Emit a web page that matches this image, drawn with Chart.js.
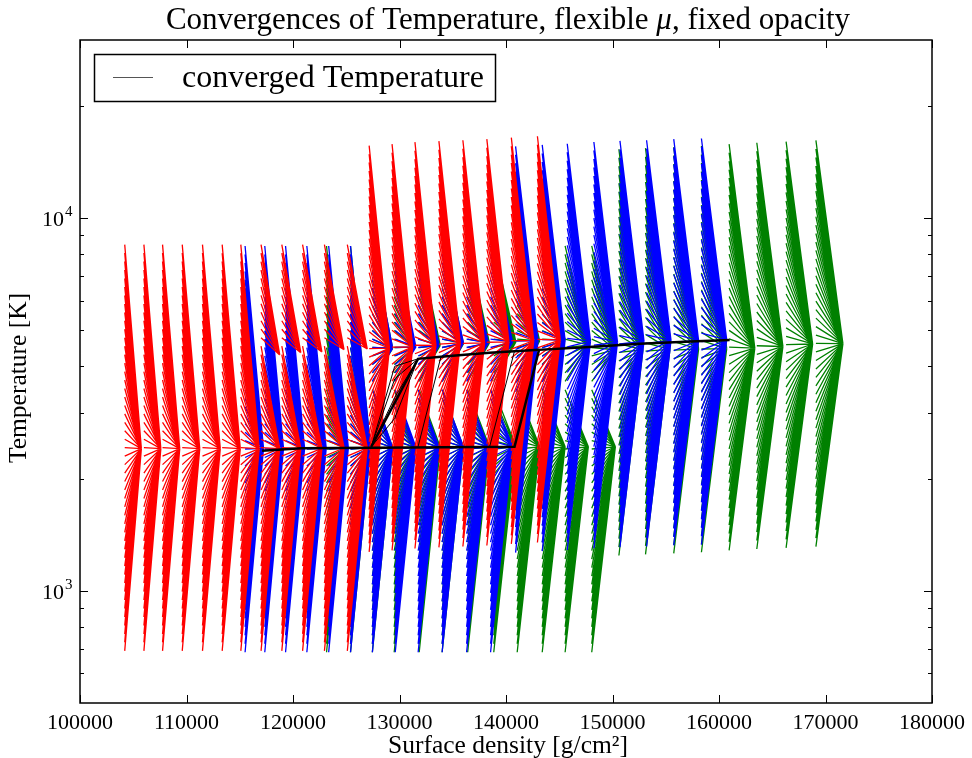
<!DOCTYPE html>
<html lang="en">
<head>
<meta charset="UTF-8">
<title>Convergences of Temperature</title>
<script src="https://cdn.jsdelivr.net/npm/chart.js"></script>
<style>
  body { margin: 0; background: #fff; }
</style>
</head>
<body>
<canvas id="chart" width="972" height="758"></canvas>
<script>
// starting guesses of every fan, as a factor of the fan's reference temperature
var startFactors = [0.2851, 0.3004, 0.3165, 0.3335, 0.3514, 0.3703, 0.3902, 0.4111, 0.4332, 0.4564,
                    0.4809, 0.5067, 0.5339, 0.5626, 0.5928, 0.6246, 0.6581, 0.6934, 0.7306, 0.7698,
                    0.8110, 0.8546, 0.9004, 0.9487, 1.0000, 1.0532, 1.1097, 1.1693, 1.2320, 1.2981,
                    1.3677, 1.4411, 1.5184, 1.5999, 1.6857, 1.7762, 1.8715, 1.9719, 2.0777, 2.1891,
                    2.3067, 2.4304, 2.5608, 2.6982, 2.8430, 2.9955, 3.1563, 3.3256, 3.5040];

// red runs
var redSigma    = [104200, 106000, 107750, 109600, 111500, 113350, 115100, 117000, 118950, 120900,
                   122950, 125100, 127150, 129300, 131450, 133700, 135950, 138200, 140500, 142950];
var redStartT   = [2420, 2420, 2420, 2420, 2420, 2420, 2420, 2420, 2420, 2420,
                   2420, 2420, 4460, 4500, 4555, 4585, 4610, 4640, 4685, 4725];
var redConvLow  = [2405, 2405, 2405, 2405, 2405, 2405, 2405, 2405, 2410, 2410,
                   2415, 2420, 4475, 4510, 4550, 4620, 4620, 4650, 4690, 4710];
var redConvHigh = [2405, 2405, 2405, 2405, 2405, 2405, 2405, 4290, 4350, 4370,
                   4430, 4450, 4475, 4510, 4550, 4620, 4620, 4650, 4690, 4710];
var redSplit    = [Infinity, Infinity, Infinity, Infinity, Infinity, Infinity, Infinity, 4600, 4600, 4600,
                   4600, 4600, 0, 0, 0, 0, 0, 0, 0, 0];

// blue runs
var blueSigma    = [115500, 117350, 119300, 121300, 123350, 125400, 127450, 129600, 131750, 134000,
                    136300, 138550, 140900, 143400, 145750, 148250, 150700, 153200, 155750, 158350];
var blueStartT   = [2400, 2400, 2400, 2400, 2400, 2400, 2400, 2400, 2400, 2400,
                    2400, 2400, 4440, 4480, 4510, 4560, 4590, 4610, 4640, 4660];
var blueConvLow  = [2410, 2410, 2410, 2410, 2415, 2420, 2420, 2425, 2425, 2430,
                    2430, 2433, 4690, 4700, 4670, 4640, 4670, 4690, 4690, 4710];
var blueConvHigh = [2410, 2410, 2410, 2410, 2415, 2420, 4475, 4510, 4550, 4620,
                    4620, 4650, 4690, 4700, 4670, 4640, 4670, 4690, 4690, 4710];
var blueSplit    = [Infinity, Infinity, Infinity, Infinity, Infinity, Infinity, 3600, 3600, 3600, 3600,
                    3600, 3600, 0, 0, 0, 0, 0, 0, 0, 0];

// green runs
var greenSigma    = [123150, 125400, 127450, 129500, 131850, 134000, 136400, 138850, 141050, 143400,
                     145550, 148050, 150600, 153100, 155750, 158350, 160950, 163550, 166300, 169100];
var greenStartT   = [2400, 2400, 2400, 2400, 2400, 2400, 2400, 2400, 2400, 2400,
                     2400, 2400, 4360, 4390, 4420, 4450, 4500, 4540, 4570, 4605];
var greenConvLow  = [2415, 2420, 2420, 2425, 2425, 2430, 2430, 2433, 2433, 2433,
                     2433, 2433, 4430, 4440, 4450, 4460, 4475, 4520, 4590, 4600];
var greenConvHigh = [2415, 2420, 4470, 4500, 4550, 4600, 4620, 4650, 4680, 4700,
                     4560, 4430, 4430, 4440, 4450, 4460, 4475, 4520, 4590, 4600];
var greenSplit    = [Infinity, Infinity, 3600, 3600, 3600, 3600, 3600, 3600, 3600, 3600,
                     3600, 3600, 0, 0, 0, 0, 0, 0, 0, 0];

// converged temperature tracks
var convMainSigma  = [117100, 120800, 140800, 143100, 147800, 152600, 157900, 161000];
var convMainT      = [2375, 2410, 2433, 4427, 4509, 4594, 4665, 4708];
var convUpperSigma = [127350, 131740, 133890, 136130, 138460, 140790, 143130];
var convUpperT     = [2433, 4188, 4240, 4292, 4346, 4386, 4427];
var convWedgeMidSigma = 129550;
var convWedgeMidT  = [2900, 3300, 3700, 4000];
var convJumpSigma  = [[131740, 133890], [138460, 140790]];
var convJumpT      = [[2433, 4240], [2433, 4386]];

var xTicks = [100000, 110000, 120000, 130000, 140000, 150000, 160000, 170000, 180000];
var yMajorTicks = [1000, 10000];
var yMajorExp = ['3', '4'];
var yMinorTicks = [600, 700, 800, 900, 2000, 3000, 4000, 5000, 6000, 7000, 8000, 9000, 20000];

var ARROW_STEP = 1.015;   // arrow heads sit 1.5 % further along in surface density
var SERIF = '"Liberation Serif", "DejaVu Serif", serif';

function fanDatasets(sigma, startT, convLow, convHigh, split, color, order) {
    var sets = [];
    for (var k = 0; k < sigma.length; k++) {
        var pts = [];
        var xEnd = sigma[k] * ARROW_STEP;
        for (var i = 0; i < startFactors.length; i++) {
            var t0 = startT[k] * startFactors[i];
            var t1 = t0 > split[k] ? convHigh[k] : convLow[k];
            pts.push({ x: sigma[k], y: t0 }, { x: xEnd, y: t1 }, { x: xEnd, y: null });
        }
        sets.push({
            data: pts, borderColor: color, borderWidth: 1.3, pointRadius: 0,
            fill: false, tension: 0, spanGaps: false, order: order
        });
    }
    return sets;
}

function track(sigma, temps) {
    return sigma.map(function (s, i) { return { x: s, y: temps[i] }; });
}

var wedgePts = [];
convWedgeMidT.forEach(function (t) {
    wedgePts.push({ x: convUpperSigma[0], y: convUpperT[0] }, { x: convWedgeMidSigma, y: t },
                  { x: convUpperSigma[1], y: convUpperT[1] }, { x: convUpperSigma[1], y: null });
});
var jumpPts = [];
convJumpSigma.forEach(function (s, i) {
    jumpPts.push({ x: s[0], y: convJumpT[i][0] }, { x: s[1], y: convJumpT[i][1] }, { x: s[1], y: null });
});

var blackStyle = { borderColor: '#000', pointRadius: 0, fill: false, tension: 0, order: 0 };
var datasets = [
    Object.assign({ label: 'converged Temperature', data: track(convMainSigma, convMainT), borderWidth: 2.5 }, blackStyle),
    Object.assign({ data: track(convUpperSigma, convUpperT), borderWidth: 2.5 }, blackStyle),
    Object.assign({ data: wedgePts, borderWidth: 1 }, blackStyle),
    Object.assign({ data: jumpPts, borderWidth: 1 }, blackStyle)
].concat(
    fanDatasets(redSigma, redStartT, redConvLow, redConvHigh, redSplit, '#ff0000', 1),
    fanDatasets(blueSigma, blueStartT, blueConvLow, blueConvHigh, blueSplit, '#0000ff', 2),
    fanDatasets(greenSigma, greenStartT, greenConvLow, greenConvHigh, greenSplit, '#008000', 3)
);

// frame, inward ticks, titles and the legend box, matplotlib style
var decorations = {
    id: 'decorations',
    afterDatasetsDraw: function (chart) {
        var ctx = chart.ctx, a = chart.chartArea;
        var xs = chart.scales.x, ys = chart.scales.y;
        ctx.save();
        ctx.strokeStyle = '#000';
        ctx.lineWidth = 1;
        ctx.beginPath();
        xTicks.forEach(function (v) {
            var px = Math.round(xs.getPixelForValue(v)) + 0.5;
            ctx.moveTo(px, a.bottom); ctx.lineTo(px, a.bottom - 8);
            ctx.moveTo(px, a.top); ctx.lineTo(px, a.top + 8);
        });
        yMajorTicks.forEach(function (v) {
            var py = Math.round(ys.getPixelForValue(v)) + 0.5;
            ctx.moveTo(a.left, py); ctx.lineTo(a.left + 8, py);
            ctx.moveTo(a.right, py); ctx.lineTo(a.right - 8, py);
        });
        yMinorTicks.forEach(function (v) {
            var py = Math.round(ys.getPixelForValue(v)) + 0.5;
            ctx.moveTo(a.left, py); ctx.lineTo(a.left + 4, py);
            ctx.moveTo(a.right, py); ctx.lineTo(a.right - 4, py);
        });
        ctx.stroke();
        ctx.lineWidth = 1.5;
        ctx.strokeRect(a.left, a.top, a.right - a.left, a.bottom - a.top);

        // y tick labels with superscript exponents
        ctx.fillStyle = '#000';
        ctx.textBaseline = 'alphabetic';
        yMajorTicks.forEach(function (v, i) {
            var py = ys.getPixelForValue(v);
            ctx.font = '22px ' + SERIF;
            ctx.textAlign = 'right';
            ctx.fillText('10', 64, py + 8);
            ctx.font = '15px ' + SERIF;
            ctx.textAlign = 'left';
            ctx.fillText(yMajorExp[i], 65, py - 2);
        });

        // legend
        ctx.lineWidth = 1.5;
        ctx.strokeRect(94.5, 54.5, 401, 47);
        ctx.lineWidth = 1;
        ctx.strokeStyle = '#555';
        ctx.beginPath();
        ctx.moveTo(113, 77.5); ctx.lineTo(153, 77.5);
        ctx.stroke();
        ctx.font = '32px ' + SERIF;
        ctx.textAlign = 'left';
        ctx.fillText('converged Temperature', 182, 87);

        // title with italic mu
        var parts = [['Convergences of Temperature, flexible ', 'normal'], ['\u03bc', 'italic'], [', fixed opacity', 'normal']];
        var total = 0;
        parts.forEach(function (p) {
            ctx.font = p[1] + ' 31px ' + SERIF;
            p.push(ctx.measureText(p[0]).width);
            total += p[2];
        });
        var x = 508 - total / 2;
        parts.forEach(function (p) {
            ctx.font = p[1] + ' 31px ' + SERIF;
            ctx.fillText(p[0], x, 29);
            x += p[2];
        });

        // axis titles
        ctx.font = '25.5px ' + SERIF;
        ctx.textAlign = 'center';
        ctx.fillText('Surface density [g/cm\u00b2]', 508, 753);
        ctx.translate(26, 378);
        ctx.rotate(-Math.PI / 2);
        ctx.fillText('Temperature [K]', 0, 0);
        ctx.restore();
    }
};

new Chart(document.getElementById('chart'), {
    type: 'line',
    data: { datasets: datasets },
    options: {
        responsive: false,
        animation: false,
        events: [],
        layout: { padding: { left: 0, right: 35, top: 40, bottom: 0 } },
        plugins: { legend: { display: false }, tooltip: { enabled: false }, title: { display: false } },
        scales: {
            x: {
                type: 'linear', min: 100000, max: 180000,
                afterBuildTicks: function (s) { s.ticks = xTicks.map(function (v) { return { value: v }; }); },
                afterFit: function (s) { s.height = 55; },
                grid: { display: false, drawTicks: false },
                border: { display: false },
                ticks: {
                    autoSkip: false, maxRotation: 0, padding: 7, color: '#000',
                    font: { family: SERIF, size: 22 },
                    callback: function (v) { return String(v); }
                }
            },
            y: {
                type: 'logarithmic', min: 500, max: 30000,
                afterFit: function (s) { s.width = 80; },
                grid: { display: false, drawTicks: false },
                border: { display: false },
                ticks: { display: false }
            }
        }
    },
    plugins: [decorations]
});
</script>
</body>
</html>
